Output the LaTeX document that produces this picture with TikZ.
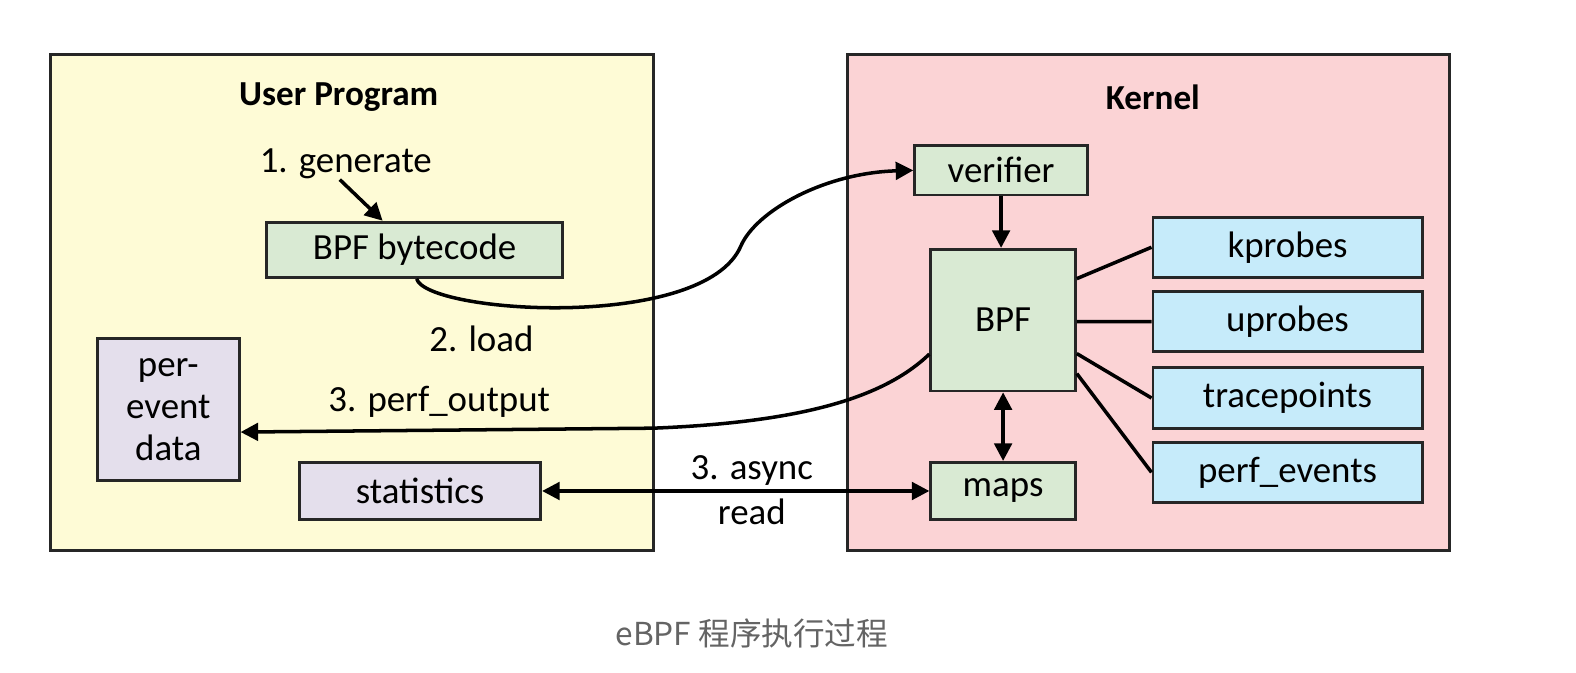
\documentclass[tikz,border=0pt]{standalone}
\usepackage{fontspec}
\setmainfont{Carlito}
\newfontfamily\cjk{Noto Sans CJK SC}
\usetikzlibrary{arrows.meta}
\definecolor{userbg}{RGB}{254,251,214}
\definecolor{kernbg}{RGB}{251,211,213}
\definecolor{greenbox}{RGB}{217,234,211}
\definecolor{lilacbox}{RGB}{228,223,236}
\definecolor{bluebox}{RGB}{198,235,250}
\definecolor{capgray}{RGB}{100,100,100}
\begin{document}
\begin{tikzpicture}
[x=0.010051cm,y=-0.010051cm,
 area/.style={draw=black!85,line width=0.8pt,inner sep=0pt},
 box/.style={draw=black!85,line width=0.8pt,inner sep=0pt,align=center,
   font=\fontsize{10.5}{12}\selectfont},
 greenb/.style={box,fill=greenbox},
 lilacb/.style={box,fill=lilacbox},
 blueb/.style={box,fill=bluebox,minimum width=2.694cm,minimum height=0.603cm},
 txt/.style={font=\fontsize{10.5}{12}\selectfont,inner sep=0pt},
 title/.style={font=\fontsize{10}{12}\selectfont\bfseries,inner sep=0pt},
 arr/.style={line width=1pt,-{Triangle[length=5pt,width=5pt]}},
 dblarr/.style={line width=1pt,{Triangle[length=5pt,width=5pt]}-{Triangle[length=5pt,width=5pt]}},
 link/.style={line width=1pt}]
\useasboundingbox (0,0) rectangle (1568,668.6);
% the two areas
\node[area,fill=userbg,minimum width=6.03cm,minimum height=4.965cm] (user) at (350,301) {};
\node[area,fill=kernbg,minimum width=6.02cm,minimum height=4.965cm] (kernel) at (1142.5,301) {};
\node[title] (usertitle) at (337,97) {User Program};
\node[title] (kerntitle) at (1147,97) {Kernel};
% user side
\node[txt] (gen) at (344,163) {1. generate};
\node[greenb,minimum width=2.965cm,minimum height=0.553cm] (bytecode) at (412.5,248.5) {BPF bytecode};
\node[lilacb,minimum width=1.417cm,minimum height=1.417cm] (perevent) at (167.5,407.5) {per-\\event\\data};
\node[lilacb,minimum width=2.412cm,minimum height=0.573cm] (stats) at (418,488.5) {statistics};
% kernel side
\node[greenb,minimum width=1.729cm,minimum height=0.4925cm] (verifier) at (996,169.5) {verifier};
\node[greenb,minimum width=1.447cm,minimum height=1.417cm] (bpf) at (998,318.5) {BPF};
\node[greenb,minimum width=1.447cm,minimum height=0.573cm] (maps) at (998,488.5) {maps};
\node[blueb] (kprobes) at (1281,246) {kprobes};
\node[blueb] (uprobes) at (1281,320) {uprobes};
\node[blueb] (tracepoints) at (1281,396) {tracepoints};
\node[blueb] (perfev) at (1281,470) {perf\_events};
% labels
\node[txt] (load) at (479,337) {2. load};
\node[txt] (perfout) at (437,400) {3. perf\_output};
\node[txt,align=center,font=\fontsize{10.5}{12.9}\selectfont] (async) at (748,488) {3. async\\read};
\node[font=\cjk\fontsize{9}{11}\selectfont,text=capgray,inner sep=0pt] (caption) at (748,630) {eBPF 程序执行过程};
% connectors
\draw[arr] ([xshift=-0.06cm]gen.south) -- ([xshift=-0.32cm]bytecode.north);
\draw[arr] ([xshift=0.02cm]bytecode.south) .. controls (425,312) and (700,330) .. (737,245)
  .. controls (752,210) and (820,172) .. (verifier.west);
\draw[arr] ([yshift=-0.34cm]bpf.west) .. controls (880,395) and (800,420) .. (650,426)
  -- ([yshift=-0.225cm]perevent.east);
\draw[dblarr] (stats.east) -- (maps.west);
\draw[arr] (verifier.south) -- (verifier.south |- bpf.north);
\draw[dblarr] (bpf.south) -- (maps.north);
\path[link] ([yshift=0.415cm]bpf.east) edge (kprobes.west)
  ([yshift=-0.015cm]bpf.east) edge (uprobes.west)
  ([yshift=-0.335cm]bpf.east) edge (tracepoints.west)
  ([yshift=-0.535cm]bpf.east) edge (perfev.west);
\end{tikzpicture}
\end{document}
